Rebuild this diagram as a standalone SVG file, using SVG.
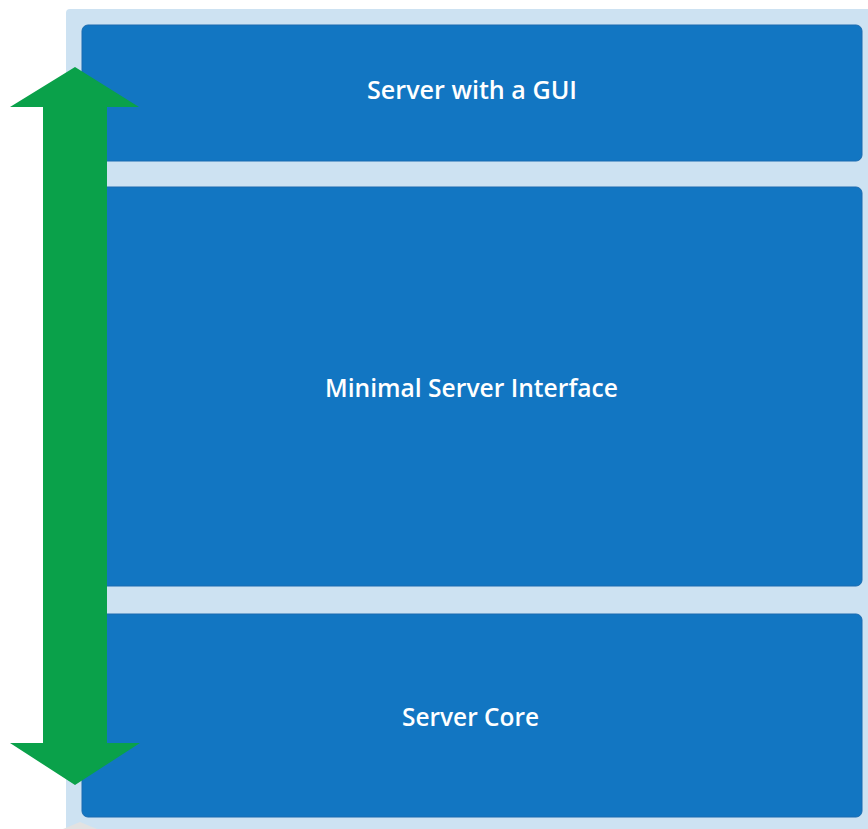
<svg xmlns="http://www.w3.org/2000/svg" width="868" height="829" viewBox="0 0 868 829">
<style>
.bg{fill:#cde2f2}
.box{fill:#1276c2;stroke:#1a6bb0;stroke-width:1}
.lbl{fill:#ffffff;font-family:"Open Sans","Liberation Sans",sans-serif;font-weight:600;font-size:25px;text-anchor:middle}
.arrow{fill:#0aa14a}
</style>
<rect class="bg" x="66" y="9" width="810" height="830" rx="4"/>
<polygon points="63,829 80,822 97,829" fill="#e2e2e2"/>
<g id="node-gui">
<rect class="box" x="82" y="25" width="780" height="136" rx="6"/>
<text class="lbl" x="472" y="99" textLength="210" lengthAdjust="spacingAndGlyphs">Server with a GUI</text>
</g>
<g id="node-minimal">
<rect class="box" x="82" y="187" width="780" height="399" rx="6"/>
<text class="lbl" x="471.5" y="397" textLength="293" lengthAdjust="spacingAndGlyphs">Minimal Server Interface</text>
</g>
<g id="node-core">
<rect class="box" x="82" y="614" width="780" height="203" rx="6"/>
<text class="lbl" x="470.5" y="726" textLength="137" lengthAdjust="spacingAndGlyphs">Server Core</text>
</g>
<g id="connectors">
<polygon class="arrow" points="75,67 139,107 107,107 107,743 140,743 75,785 10,743 43,743 43,107 10,107"/>
</g>
</svg>
